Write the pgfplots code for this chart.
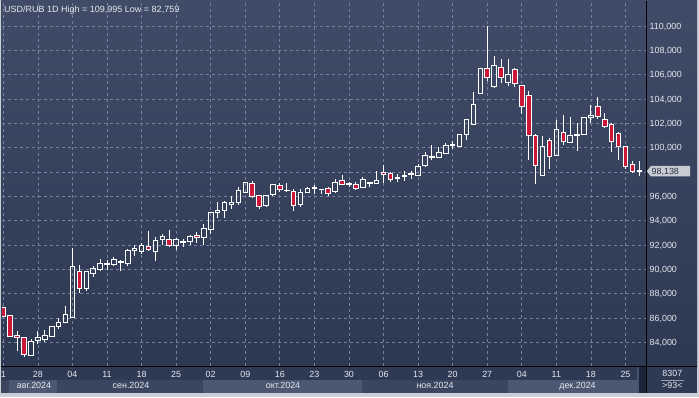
\documentclass[border=0pt]{standalone}
\usepackage{pgfplots}
\pgfplotsset{compat=1.18}
\usepgfplotslibrary{statistics}
\usepackage{pgfplotstable}
\usepackage{fontspec}
\setmainfont{Liberation Sans}
\definecolor{bgtop}{RGB}{64,76,103}
\definecolor{bgbot}{RGB}{45,57,83}
\definecolor{gridc}{RGB}{115,128,158}
\definecolor{candred}{RGB}{204,24,56}
\definecolor{txt}{RGB}{228,232,238}
\definecolor{framec}{RGB}{202,206,213}
\definecolor{rowdark}{RGB}{46,58,84}
\definecolor{monthbase}{RGB}{58,70,96}
\definecolor{monthhi}{RGB}{76,88,114}
\definecolor{tagc}{RGB}{200,204,210}
\definecolor{tagtxt}{RGB}{40,50,72}
\definecolor{scrolldark}{RGB}{28,37,58}
\definecolor{scrolllight}{RGB}{72,82,106}
\definecolor{sepc}{RGB}{150,158,176}
\newcommand\lab{\fontsize{8.9}{10}\selectfont}

\pgfplotstableread{
i o h l c
0 86.84 86.86 86.12 86.16
1 86.19 86.25 84.45 84.49
2 84.55 84.96 83.26 84.36
3 84.38 84.42 82.76 83.01
4 82.93 84.30 82.85 84.03
5 84.11 84.96 83.86 84.38
6 84.27 85.04 84.00 84.57
7 84.49 85.35 84.45 85.29
8 85.29 86.00 85.10 85.67
9 85.64 86.99 85.56 86.25
10 86.05 91.75 86.00 90.27
11 89.86 90.38 88.03 88.44
12 88.44 89.87 88.25 89.81
13 89.70 90.27 89.40 90.03
14 90.00 90.88 89.89 90.47
15 90.38 90.79 89.94 90.52
16 90.38 91.04 90.30 90.77
17 90.55 90.77 89.84 90.66
18 90.52 91.64 90.25 91.59
19 91.55 92.00 91.07 91.70
20 91.48 92.14 91.26 91.97
21 91.84 93.18 91.53 91.67
22 91.48 92.68 90.71 92.41
23 92.44 92.90 92.03 92.71
24 92.49 93.26 91.81 92.00
25 92.00 92.58 91.56 92.44
26 92.20 92.49 91.81 92.25
27 92.30 92.82 91.97 92.70
28 92.79 93.04 92.14 92.60
29 92.63 93.73 92.03 93.32
30 93.28 94.70 92.90 94.70
31 94.68 95.56 94.25 94.86
32 94.82 95.62 94.22 95.50
33 95.34 96.03 94.99 95.53
34 95.48 96.74 95.31 96.52
35 96.33 97.21 96.25 97.12
36 97.04 97.26 95.89 96.03
37 96.08 96.10 94.99 95.15
38 95.23 96.10 95.20 96.05
39 96.14 97.04 96.10 96.99
40 96.90 97.07 96.38 96.55
41 96.45 97.07 96.33 96.52
42 96.44 96.58 94.83 95.23
43 95.31 96.58 95.10 96.36
44 96.33 96.79 96.25 96.63
45 96.63 96.93 96.19 96.74
46 96.55 96.62 96.16 96.60
47 96.66 96.79 96.05 96.25
48 96.38 97.42 96.36 97.15
49 97.31 97.73 96.93 96.99
50 97.00 97.21 96.74 97.05
51 96.99 97.15 96.49 96.63
52 96.74 97.56 96.74 97.42
53 97.07 97.15 96.80 97.12
54 97.04 98.05 97.04 97.31
55 97.97 98.58 97.07 97.81
56 97.86 97.97 97.21 97.37
57 97.51 97.81 97.21 97.56
58 97.62 98.06 97.30 97.68
59 97.80 98.10 97.45 97.88
60 97.75 98.62 97.69 98.45
61 98.51 99.68 98.45 99.35
62 99.16 100.22 98.97 99.30
63 99.21 100.03 99.21 99.57
64 99.54 100.38 99.54 100.17
65 100.17 100.55 99.92 100.25
66 100.11 101.15 100.08 101.12
67 101.12 102.34 100.60 102.29
68 101.93 104.60 101.85 103.59
69 104.46 106.55 104.41 106.50
70 106.50 109.995 105.50 105.77
71 105.01 107.51 104.95 106.75
72 106.61 107.27 105.28 105.77
73 105.33 107.27 105.06 106.04
74 106.45 106.59 105.00 105.28
75 105.12 105.15 102.78 103.40
76 104.30 104.68 98.97 101.04
77 101.04 101.10 97.01 98.51
78 97.75 100.98 97.64 100.14
79 100.57 100.79 98.23 99.32
80 99.38 102.26 99.35 101.47
81 101.23 102.70 100.25 100.55
82 100.47 102.53 100.47 100.98
83 101.01 101.99 99.70 101.09
84 101.09 102.56 101.07 102.51
85 102.51 103.51 102.02 102.67
86 103.40 104.14 102.34 102.56
87 102.34 102.83 101.61 101.74
88 101.93 102.07 99.62 100.55
89 101.17 101.25 98.97 100.11
90 100.08 100.10 98.21 98.48
91 98.59 98.89 97.94 98.07
92 98.07 98.89 97.65 98.138
}\candles

\begin{document}
\begin{tikzpicture}[x=1pt,y=1pt]
\useasboundingbox (0,0) rectangle (699,397);
\fill[framec] (0,0) rectangle (699,397);
\shade[top color=bgtop, bottom color=bgbot] (1.2,31) rectangle (697,396);
\fill[rowdark] (1.2,17) rectangle (697,31);
\fill[monthbase] (1.2,4) rectangle (646.5,17);
\fill[monthhi] (9,4) rectangle (57,17);
\fill[monthhi] (203,4) rectangle (362,17);
\fill[monthhi] (508,4) rectangle (637,17);
\fill[rowdark] (646.5,4) rectangle (697,31);
\fill[scrolldark] (637,4) rectangle (646.5,31);
\fill[scrolllight] (636.5,4) rectangle (639,31);

\begin{axis}[
  at={(2pt,31pt)}, anchor=south west,
  scale only axis, width=644.5pt, height=365pt,
  xmin=-0.188, xmax=93.04, ymin=82.05, ymax=112.06,
  boxplot/draw direction=y,
  axis line style={draw=none},
  major tick length=0pt,
  grid=major,
  grid style={gridc, line width=0.7pt, dash pattern=on 3pt off 3pt},
  xtick={0,5,...,90},
  xticklabels={1,28,04,11,18,25,02,09,16,23,30,06,13,20,27,04,11,18,25},
  ytick={84,86,...,110},
  yticklabels={84{,}000,86{,}000,88{,}000,90{,}000,92{,}000,94{,}000,96{,}000,,100{,}000,102{,}000,104{,}000,106{,}000,108{,}000,110{,}000},
  yticklabel pos=right,
  xticklabel style={anchor=base, inner sep=0pt, yshift=-11.7pt, font=\lab, text=txt},
  yticklabel style={anchor=base west, inner sep=0pt, xshift=3pt, yshift=-3.1pt, font=\lab, text=txt},
]
\pgfplotsinvokeforeach{0,...,92}{
  \pgfplotstablegetelem{#1}{o}\of\candles \let\vo\pgfplotsretval
  \pgfplotstablegetelem{#1}{h}\of\candles \let\vh\pgfplotsretval
  \pgfplotstablegetelem{#1}{l}\of\candles \let\vl\pgfplotsretval
  \pgfplotstablegetelem{#1}{c}\of\candles \let\vc\pgfplotsretval
  \pgfmathsetmacro\lo{min(\vo,\vc)}
  \pgfmathsetmacro\hi{max(\vo,\vc)}
  \pgfmathtruncatemacro\isdown{\vc<\vo}
  \ifnum\isdown=1 \def\fillopt{fill=candred}\else\def\fillopt{fill=none}\fi
  \edef\doit{\noexpand\addplot[draw=white, line width=0.9pt, \fillopt,
     boxplot prepared={draw position=#1, lower whisker=\vl, lower quartile=\lo,
       median=\lo, upper quartile=\hi, upper whisker=\vh,
       box extend=0.66, whisker extend=0}] coordinates {};}
  \doit
}
\end{axis}

\draw[black, line width=1pt] (1.2,31) -- (697,31);
\draw[black, line width=1pt] (646.5,4) -- (646.5,396);

% price tag
\fill[tagc] (646.8,225.8) -- (651,231) -- (690,231) -- (690,220.5) -- (651,220.5) -- cycle;
\node[anchor=base west, inner sep=0pt, font=\lab, text=tagtxt] at (651.5,222.4) {98,138};

% title
\node[anchor=base west, inner sep=0pt, font=\fontsize{9}{10}\selectfont, text=txt] at (4,384.3) {USD/RUB 1D High = 109,995 Low = 82,759};

% month labels
\foreach \xx/\tt in {34/авг.2024, 131/сен.2024, 283/окт.2024, 435/ноя.2024, 577.5/дек.2024}
  \node[anchor=base, inner sep=0pt, font=\lab, text=txt] at (\xx,8.3) {\tt};

% bottom right info
\node[anchor=base, inner sep=0pt, font=\lab, text=txt] at (672.3,20.3) {8307};
\draw[sepc, line width=0.6pt] (661,17) -- (684,17);
\node[anchor=base, inner sep=0pt, font=\lab, text=txt] at (672.3,8.3) {>93<};
\end{tikzpicture}
\end{document}
